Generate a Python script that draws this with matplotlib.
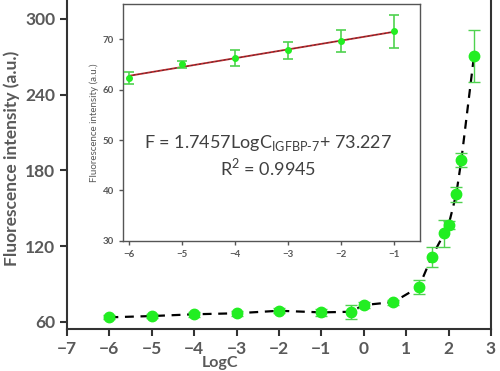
import matplotlib
matplotlib.use("Agg")
import matplotlib.pyplot as plt
import numpy as np

plt.rcParams['font.family'] = ['Lato', 'DejaVu Sans']
plt.rcParams['mathtext.fontset'] = 'custom'
plt.rcParams['mathtext.rm'] = 'Lato'

# main data
log_c = [-6, -5, -4, -3, -2, -1, -0.3, 0, 0.7, 1.3, 1.6, 1.9, 2.0, 2.18, 2.3, 2.6]
intensity = [63.5, 64.5, 65.9, 66.7, 68.7, 67.4, 67.9, 73.2, 75.6, 87.5, 111.3, 130.1, 136.7, 161.0, 188.0, 270.9]
intensity_err = [1.5, 1.5, 1.8, 1.8, 2.0, 2.5, 5.5, 2.5, 2.0, 5.3, 7.7, 10.6, 3.5, 6.0, 5.6, 20.5]

# inset data
inset_x = [-6, -5, -4, -3, -2, -1]
inset_y = [62.4, 65.0, 66.3, 67.8, 69.7, 71.6]
inset_err = [1.2, 0.7, 1.5, 1.7, 2.2, 3.3]
slope, intercept = 1.7457, 73.227

main_xticks = [-7, -6, -5, -4, -3, -2, -1, 0, 1, 2, 3]
main_yticks = [60, 120, 180, 240, 300]
inset_xticks = [-6, -5, -4, -3, -2, -1]
inset_yticks = [30, 40, 50, 60, 70]

gray = '#595959'
green = '#22ee22'
errgreen = '#4fd24f'

fig = plt.figure(figsize=(5, 3.71), dpi=100)
ax = fig.add_axes([0.134, 0.1124, 0.848, 0.8876])
ax.plot(log_c, intensity, linestyle=(0, (4, 3)), color='black', lw=1.6, zorder=2)
ax.errorbar(log_c, intensity, yerr=intensity_err, fmt='o', color=green, ms=7.5,
            ecolor=errgreen, elinewidth=1.0, capsize=4, capthick=1.0, zorder=3)
ax.set_xlim(-7, 3)
ax.set_ylim(54, 315)
ax.set_xticks(main_xticks)
ax.set_yticks(main_yticks)
ax.tick_params(direction='out', length=5, width=1.5, colors='#333333', labelcolor=gray, labelsize=12.5)
for lab in ax.get_xticklabels() + ax.get_yticklabels():
    lab.set_fontweight('bold')
for s in ['left', 'bottom', 'right']:
    ax.spines[s].set_linewidth(1.5)
    ax.spines[s].set_color('#333333')
ax.spines['top'].set_visible(False)

fig.text(12/500, 1 - 158/371, 'Fluorescence intensity (a.u.)', rotation=90, ha='center', va='center',
         fontsize=12.5, fontweight='bold', color=gray)
fig.text(220/500, 1/371, 'LogC', ha='center', va='bottom', fontsize=11.5, fontweight='bold', color=gray)

# inset
ia = fig.add_axes([0.2466, 0.3512, 0.5934, 0.6378])
xx = np.array([-6, -1])
ia.plot(xx, slope * xx + intercept, color='#c0282d', lw=1.3, zorder=2)
ia.plot(xx, slope * xx + intercept, color='#333333', lw=0.5, linestyle=(0, (3, 3)), zorder=2)
ia.errorbar(inset_x, inset_y, yerr=inset_err, fmt='o', color=green, ms=4,
            ecolor=errgreen, elinewidth=1.2, capsize=3.5, capthick=1.2, zorder=3)
ia.set_xlim(-6.11, -0.5)
ia.set_ylim(30, 77)
ia.set_xticks(inset_xticks)
ia.set_yticks(inset_yticks)
ia.tick_params(direction='out', length=3, width=1, colors='#555555', labelcolor=gray, labelsize=7)
for lab in ia.get_xticklabels() + ia.get_yticklabels():
    lab.set_fontweight('bold')
for s in ia.spines.values():
    s.set_color('#555555')
    s.set_linewidth(1)
ia.set_ylabel('Fluorescence intensity (a.u.)', fontsize=7, color=gray, labelpad=3)
ia.text(-3.37, 49.5, r'F = 1.7457LogC$_{\mathrm{IGFBP}\text{-}\mathrm{7}}$+ 73.227', ha='center', va='center',
        fontsize=13, color='#404040')
ia.text(-3.37, 44.6, r'R$^{2}$ = 0.9945', ha='center', va='center', fontsize=13, color='#404040')

fig.savefig('out.png', dpi=100)
